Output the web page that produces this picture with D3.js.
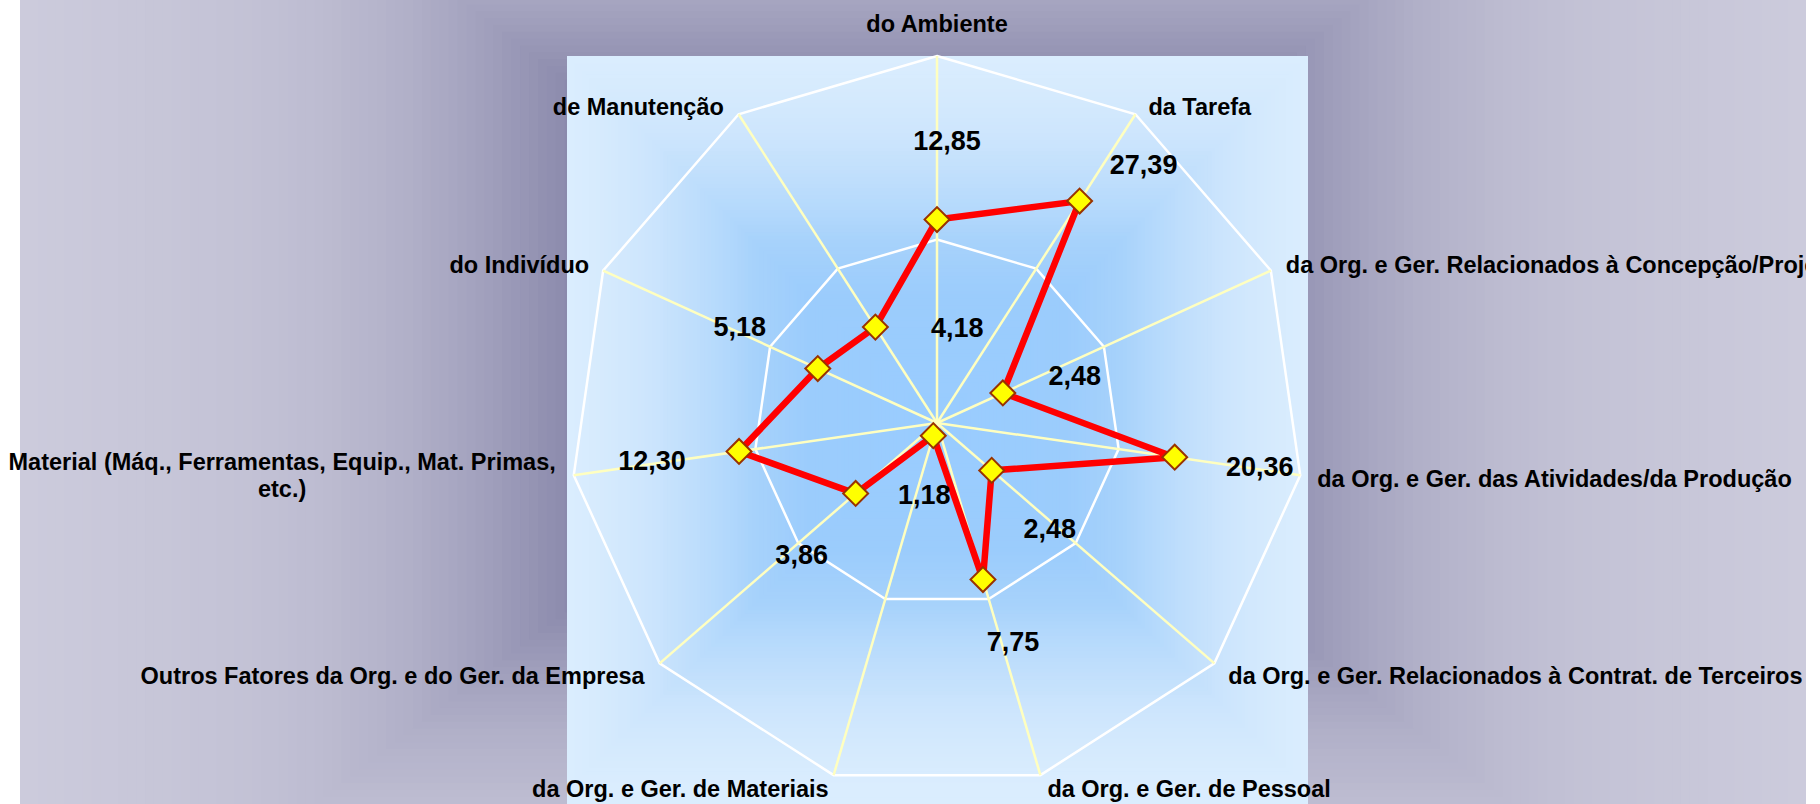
<!DOCTYPE html>
<html>
<head>
<meta charset="utf-8">
<script src="https://cdn.jsdelivr.net/npm/d3@7"></script>
<style>
  html, body { margin: 0; padding: 0; background: #ffffff; }
  svg { display: block; }
  text { font-family: "Liberation Sans", Arial, sans-serif; font-weight: bold; fill: #000; }
</style>
</head>
<body>
<svg id="chart" width="1820" height="804"></svg>
<script>
// ---------------- data ----------------
const categories = [
  "do Ambiente",
  "da Tarefa",
  "da Org. e Ger. Relacionados à Concepção/Projeto",
  "da Org. e Ger. das Atividades/da Produção",
  "da Org. e Ger. Relacionados à Contrat. de Terceiros",
  "da Org. e Ger. de Pessoal",
  "da Org. e Ger. de Materiais",
  "Outros Fatores da Org. e do Ger. da Empresa",
  "Material (Máq., Ferramentas, Equip., Mat. Primas, etc.)",
  "do Indivíduo",
  "de Manutenção"
];
const values = [12.85, 27.39, 2.48, 20.36, 2.48, 7.75, 1.18, 3.86, 12.30, 5.18, 4.18];
const radialTicks = [1, 10, 100];   // logarithmic radial axis

// ---------------- layout / style ----------------
const W = 1820, H = 804;
const chartArea = { x: 20, y: 0, w: 1786, h: 804 };
const plotArea  = { x: 567, y: 56, w: 741, h: 760 };
const cx = 937, cy = 423, R = 367;

// category label placement relative to the outer vertex: [anchor, dx, dy(center)]
const catLabelLayout = [
  ["middle", 0, -32], ["start", 13, -7], ["start", 15, -5.5], ["start", 17, 4],
  ["start", 14, 12], ["start", 7, 14], ["end", -5, 14], ["end", -15, 12],
  ["end", -18, 0], ["end", -14, -5.5], ["end", -14.7, -7]
];
// value label centre offsets relative to each marker
const valueLabelOffset = [
  [10, -78.5], [64, -37], [72, -17], [85, 9], [58, 58], [30, 62],
  [-9, 59], [-54, 61.5], [-87, 9.5], [-78, -41.5], [82, 0]
];

const svg = d3.select("#chart");
const defs = svg.append("defs");
defs.append("clipPath").attr("id", "chartClip")
  .append("rect").attr("x", chartArea.x).attr("y", chartArea.y)
  .attr("width", chartArea.w).attr("height", chartArea.h);
defs.append("clipPath").attr("id", "labelClip")
  .append("rect").attr("x", 0).attr("y", 0)
  .attr("width", chartArea.x + chartArea.w).attr("height", H);
defs.append("clipPath").attr("id", "plotClip")
  .append("rect").attr("x", plotArea.x).attr("y", plotArea.y)
  .attr("width", plotArea.w).attr("height", plotArea.h);

const root = svg.append("g").attr("clip-path", "url(#chartClip)");

// ---- chart area rectangular "from centre" gradient ----
const bgColor = d3.scaleLinear()
  .domain([0.38, 0.44, 0.5, 0.57, 0.67, 0.77, 0.88, 1.0])
  .range(["#8988aa", "#9796b5", "#a4a3bf", "#b1b0c8", "#bdbcd1", "#c4c3d6", "#c8c7d9", "#cccbdc"])
  .clamp(true);
const bgC = { x: 913, y: 346, hw: 893, hh: 683 };
const bgSteps = d3.range(1.0, 0.3, -0.01);
root.append("g").selectAll("rect").data(bgSteps).join("rect")
  .attr("x", t => bgC.x - t * bgC.hw).attr("y", t => bgC.y - t * bgC.hh)
  .attr("width", t => 2 * t * bgC.hw).attr("height", t => 2 * t * bgC.hh)
  .attr("fill", t => bgColor(t));

// ---- plot area gradient ----
const plotColor = d3.scaleLinear()
  .domain([0, 0.35, 0.5, 0.6, 0.7, 0.8, 0.9, 1.0])
  .range(["#99ccff", "#9bccfc", "#a7d2fb", "#b6dafc", "#c3e0fc", "#cee6fd", "#d5eafd", "#daedfe"])
  .clamp(true);
const pC = { x: plotArea.x + plotArea.w / 2, y: cy, hw: plotArea.w / 2, hh: R };
const plotSteps = d3.range(1.2, 0, -0.01);
const plotG = root.append("g").attr("clip-path", "url(#plotClip)");
plotG.selectAll("rect").data(plotSteps).join("rect")
  .attr("x", t => pC.x - t * pC.hw).attr("y", t => pC.y - t * pC.hh)
  .attr("width", t => 2 * t * pC.hw).attr("height", t => 2 * t * pC.hh)
  .attr("fill", t => plotColor(t));

// ---- scales ----
const angle = d3.scalePoint().domain(d3.range(categories.length))
  .range([0, 2 * Math.PI * (categories.length - 1) / categories.length]);
const r = d3.scaleLog().domain([radialTicks[0], radialTicks[radialTicks.length - 1]]).range([0, R]);
const px = (i, rad) => cx + rad * Math.sin(angle(i));
const py = (i, rad) => cy - rad * Math.cos(angle(i));

const g = root.append("g");

// rings
const ring = d3.lineRadial().angle((d, i) => angle(i)).radius(d => d).curve(d3.curveLinearClosed);
g.append("g").attr("transform", `translate(${cx},${cy})`)
  .selectAll("path").data(radialTicks.filter(t => r(t) > 0)).join("path")
  .attr("d", t => ring(categories.map(() => r(t))))
  .attr("fill", "none").attr("stroke", "#ffffff").attr("stroke-width", 2.5);

// spokes
g.append("g").selectAll("line").data(d3.range(categories.length)).join("line")
  .attr("x1", cx).attr("y1", cy)
  .attr("x2", i => px(i, r(radialTicks[radialTicks.length - 1])))
  .attr("y2", i => py(i, r(radialTicks[radialTicks.length - 1])))
  .attr("stroke", "#ffffc0").attr("stroke-width", 2.5);

// series line
const line = d3.lineRadial().angle((d, i) => angle(i)).radius(d => r(d)).curve(d3.curveLinearClosed);
g.append("path").attr("transform", `translate(${cx},${cy})`)
  .attr("d", line(values))
  .attr("fill", "none").attr("stroke", "#ff0000").attr("stroke-width", 6.5)
  .attr("stroke-linejoin", "miter");

// markers
const diamond = d3.symbol().type(d3.symbolSquare).size(310);
g.append("g").selectAll("path").data(values).join("path")
  .attr("d", diamond)
  .attr("transform", (d, i) => `translate(${px(i, r(d))},${py(i, r(d))}) rotate(45)`)
  .attr("fill", "#ffff00").attr("stroke", "#993300").attr("stroke-width", 2);

// value labels
const fmt = d3.formatLocale({ decimal: ",", thousands: ".", grouping: [3], currency: ["", ""] }).format(".2f");
g.append("g").selectAll("text").data(values).join("text")
  .attr("x", (d, i) => px(i, r(d)) + valueLabelOffset[i][0])
  .attr("y", (d, i) => py(i, r(d)) + valueLabelOffset[i][1])
  .attr("dy", "0.35em").attr("text-anchor", "middle")
  .style("font-size", "27px")
  .text(d => fmt(d));

// category labels (clipped only at the chart's right edge, as in the original)
const catG = svg.append("g").attr("clip-path", "url(#labelClip)").style("font-size", "23.5px");
categories.forEach((c, i) => {
  const vx = px(i, R), vy = py(i, R);
  const [anchor, dx, dy] = catLabelLayout[i];
  if (i === 8) {
    const parts = ["Material (Máq., Ferramentas, Equip., Mat. Primas,", "etc.)"];
    const t1 = catG.append("text").attr("text-anchor", "middle").attr("dy", "0.35em").text(parts[0]);
    const w1 = t1.node().getComputedTextLength();
    const mx = vx + dx - w1 / 2;
    t1.attr("x", mx).attr("y", vy + dy - 13.2);
    catG.append("text").attr("text-anchor", "middle").attr("dy", "0.35em")
      .attr("x", mx).attr("y", vy + dy + 13.3).text(parts[1]);
  } else {
    catG.append("text").attr("text-anchor", anchor).attr("dy", "0.35em")
      .attr("x", vx + dx).attr("y", vy + dy).text(c);
  }
});
</script>
</body>
</html>
